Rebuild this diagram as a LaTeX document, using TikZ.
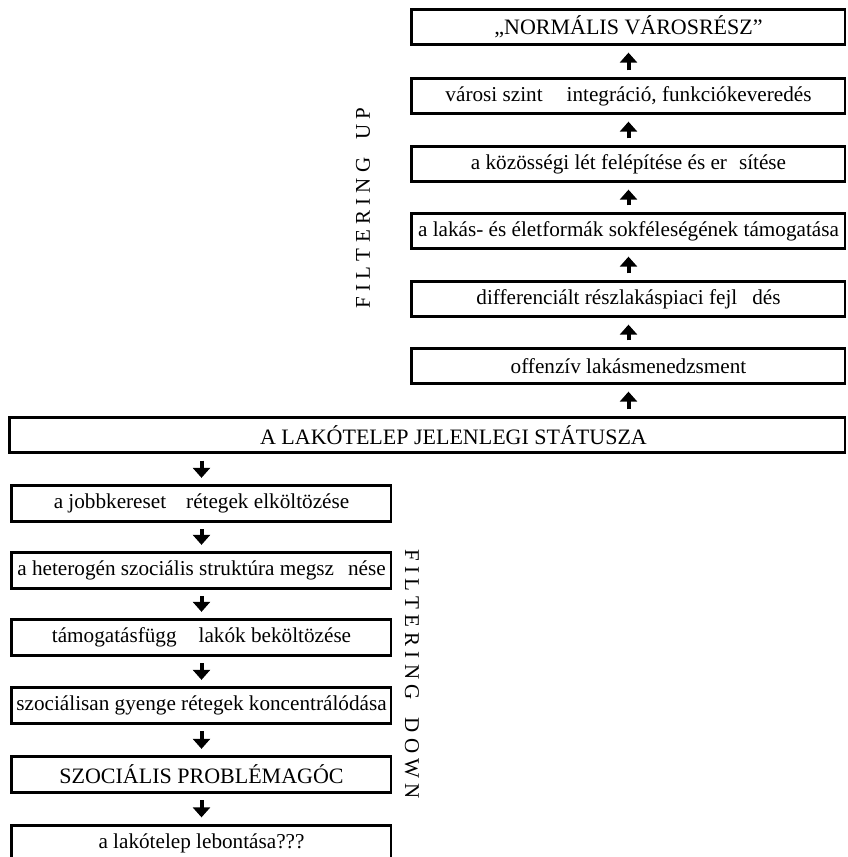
\documentclass[tikz,border=0pt]{standalone}
\usepackage{fontspec}
\setmainfont{Liberation Serif}
\usetikzlibrary{arrows.meta}
\usetikzlibrary{calc}

\begin{document}
\begin{tikzpicture}[x = 1pt, y = -1pt,
  stage/.style = {draw, line width = 1.3pt, inner sep = 0pt,
    minimum height = 34pt, font = \fontsize{21.2}{25}\selectfont},
  caps/.style = {font = \fontsize{22}{26}\selectfont},
  upstage/.style = {stage, minimum width = 433pt},
  downstage/.style = {stage, minimum width = 379pt},
  flow/.style = {line width = 4pt, -{Triangle[width = 17pt, length = 10pt]},
    shorten < = 8pt, shorten > = 8pt},
  side/.style = {font = \fontsize{21}{25}\selectfont}]
  \useasboundingbox (0, 0) rectangle (847, 857);

  % filtering up
  \node[upstage, caps] (u6) at (628.5, 27) {„NORMÁLIS VÁROSRÉSZ”};
  \node[upstage] (u5) at (628.5, 96)
  {városi szint\hspace{24pt}integráció, funkciókeveredés};
  \node[upstage] (u4) at (628.5, 164)
  {a közösségi lét felépítése és er\hspace{12pt}sítése};
  \node[upstage] (u3) at (628.5, 231)
  {a lakás- és életformák sokféleségének támogatása};
  \node[upstage] (u2) at (628.5, 299)
  {differenciált részlakáspiaci fejl\hspace{15pt}dés};
  \node[upstage] (u1) at (628.5, 366) {offenzív lakásmenedzsment};

  \node[stage, caps, minimum width = 835pt] (mid) at (427.5, 435)
  {\hspace*{52pt}A LAKÓTELEP JELENLEGI STÁTUSZA};

  % filtering down
  \node[downstage] (d1) at (201.5, 503.5)
  {a jobbkereset\hspace{20pt}rétegek elköltözése};
  \node[downstage] (d2) at (201.5, 570.5)
  {a heterogén szociális struktúra megsz\hspace{14pt}nése};
  \node[downstage] (d3) at (201.5, 637.5)
  {támogatásfügg\hspace{22pt}lakók beköltözése};
  \node[downstage] (d4) at (201.5, 705.5)
  {szociálisan gyenge rétegek koncentrálódása};
  \node[downstage, caps] (d5) at (201.5, 774.5) {SZOCIÁLIS PROBLÉMAGÓC};
  \node[downstage] (d6) at (201.5, 843) {a lakótelep lebontása???};

  %\foreach \n in {u1, u2, u3, u4, u5, u6, mid, d1, d2, d3, d4, d5, d6}
  %  \draw[line width = 2.8pt] (\n.north west) -- (\n.south west);
  \foreach \n in {u1, u2, u3, u4, u5, u6, mid, d1, d2, d3, d4, d5, d6}{
    \draw[line width = 2.8pt] (\n.north east) -- (\n.north west)
    -- (\n.south west) -- (\n.south east);
  }

  \node[side, rotate = 90] (fup) at (363, 208)
  {F I L T E R I N G\hspace{18pt}U P};
  \node[side, rotate = -90] (fdown) at (412, 674)
  {F I L T E R I N G\hspace{18pt}D O W N};

  \foreach \a/\b in {u1/u2, u2/u3, u3/u4, u4/u5, u5/u6}{
    \draw[flow] (\a) -- (\b);
  }
  \draw[flow] (mid.north -| u1) -- (u1);
  \draw[flow] (mid.south -| d1) -- (d1);
  \foreach \a/\b in {d1/d2, d2/d3, d3/d4, d4/d5, d5/d6}{
    \draw[flow] (\a) -- (\b);
  }
\end{tikzpicture}
\end{document}
